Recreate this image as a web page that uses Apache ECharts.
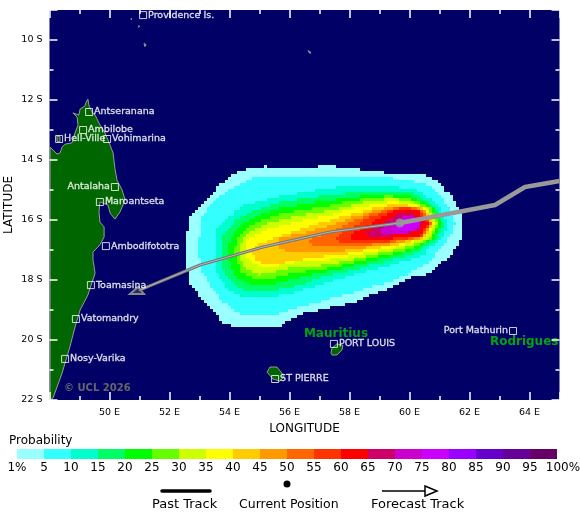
<!DOCTYPE html>
<html>
<head>
<meta charset="utf-8">
<script src="https://cdn.jsdelivr.net/npm/echarts@6/dist/echarts.min.js"></script>
<style>
html, body {margin: 0; padding: 0; background: #fff;}
#chart {width: 580px; height: 519px;}
</style>
</head>
<body>
<div id="chart"></div>
<script>
/* city names and positions, lon / lat */
var cityNames = ['Providence Is.', 'Antseranana', 'Ambilobe', 'Hell-Ville', 'Vohimarina', 'Antalaha', 'Maroantseta', 'Ambodifototra', 'Toamasina', 'Vatomandry', 'Nosy-Varika', 'PORT LOUIS', 'ST PIERRE', 'Port Mathurin'];
var cityLon = [51.12, 49.32, 49.12, 48.32, 49.92, 50.18, 49.68, 49.88, 49.38, 48.88, 48.52, 57.48, 55.52, 63.45];
var cityLat = [-9.17, -12.40, -13.00, -13.30, -13.30, -14.90, -15.40, -16.87, -18.17, -19.30, -20.63, -20.13, -21.30, -19.70];

var regionNames = ['Mauritius', 'Rodrigues'];
var regionLon = [56.48, 62.68];
var regionLat = [-19.80, -20.06];

/* track of the cyclone */
var pastTrack = [[65.0, -14.70], [63.85, -14.90], [62.85, -15.50], [59.68, -16.10]];
var forecastTrack = [[59.68, -16.10], [57.35, -16.40], [55.12, -16.90], [53.02, -17.50], [51.02, -18.33]];
var currentPosition = [59.68, -16.10];
var arrowHead = [[50.95, -18.23], [50.68, -18.47], [51.15, -18.47]];

/* coastlines */
var madagascar = [[48.02, -13.57], [48.12, -13.67], [48.25, -13.80], [48.35, -13.77], [48.42, -13.57], [48.52, -13.47], [48.75, -13.43], [48.85, -13.10], [48.95, -12.83], [48.92, -12.57], [48.78, -12.43], [48.98, -12.50], [49.02, -12.30], [49.18, -12.20], [49.22, -12.07], [49.28, -11.97], [49.32, -12.20], [49.42, -12.40], [49.52, -12.50], [49.68, -12.83], [49.85, -13.10], [49.95, -13.33], [50.12, -13.77], [50.18, -14.27], [50.25, -14.67], [50.42, -15.00], [50.52, -15.33], [50.35, -15.73], [50.18, -15.97], [50.02, -15.77], [49.95, -15.50], [49.68, -15.40], [49.65, -15.73], [49.68, -16.07], [49.82, -16.23], [49.82, -16.57], [49.68, -16.83], [49.45, -17.07], [49.45, -17.33], [49.52, -17.77], [49.28, -18.50], [49.02, -19.00], [48.85, -19.57], [48.68, -20.23], [48.42, -21.10], [48.12, -21.93], [48.02, -22.0]];
var mauritius = [[57.38, -20.43], [57.42, -20.27], [57.58, -20.13], [57.78, -20.17], [57.75, -20.33], [57.58, -20.50], [57.42, -20.50]];
var reunion = [[55.25, -21.07], [55.35, -20.90], [55.58, -20.90], [55.72, -21.07], [55.82, -21.23], [55.68, -21.37], [55.45, -21.30]];
var nosyBe = [[48.25, -13.20], [48.35, -13.22], [48.35, -13.40], [48.25, -13.38]];
var specks = [[[51.15, -10.12], [51.22, -10.15], [51.18, -10.22]], [[56.62, -10.35], [56.68, -10.45], [56.72, -10.42]], [[50.72, -9.28], [50.75, -9.30], [50.72, -9.32]], [[50.98, -9.52], [51.0, -9.55], [50.97, -9.58]]];

/* probability contours, lon / lat of the outer edge of each band */
var contour1 = [[52.52, -16.67], [52.68, -15.90], [53.02, -15.43], [53.42, -15.07], [53.75, -14.73], [54.18, -14.43], [54.52, -14.30], [55.12, -14.20], [55.92, -14.30], [56.58, -14.23], [57.35, -14.20], [57.92, -14.27], [59.25, -14.43], [60.45, -14.50], [60.95, -14.77], [61.28, -15.10], [61.52, -15.43], [61.75, -15.83], [61.75, -16.57], [61.52, -17.00], [61.28, -17.33], [60.68, -17.80], [60.12, -17.90], [59.62, -18.17], [58.95, -18.43], [58.12, -18.77], [57.02, -19.00], [56.45, -19.13], [55.62, -19.57], [54.35, -19.60], [53.78, -19.40], [53.45, -19.00], [53.08, -18.57], [52.68, -18.10], [52.52, -17.33]];
var contour5 = [[52.95, -16.99], [53.08, -15.90], [53.45, -15.33], [54.02, -14.93], [54.78, -14.60], [56.02, -14.60], [57.35, -14.57], [58.12, -14.53], [59.25, -14.60], [60.25, -14.73], [60.78, -14.93], [61.15, -15.33], [61.35, -15.77], [61.52, -16.17], [61.35, -16.60], [61.08, -16.98], [60.62, -17.43], [59.92, -17.83], [59.52, -18.00], [58.68, -18.27], [57.68, -18.57], [57.02, -18.73], [56.45, -18.87], [55.58, -19.17], [54.45, -19.17], [53.78, -18.67], [53.45, -18.27], [53.08, -17.67]];
var contour10 = [[53.52, -16.77], [53.58, -16.23], [54.02, -15.83], [54.45, -15.50], [55.35, -15.27], [56.25, -15.10], [57.35, -14.93], [58.12, -14.87], [59.25, -14.87], [60.12, -15.00], [60.68, -15.27], [61.05, -15.67], [61.28, -16.17], [61.08, -16.67], [60.58, -17.07], [60.35, -17.23], [59.25, -17.57], [58.12, -17.83], [57.02, -18.17], [56.25, -18.40], [55.35, -18.60], [54.52, -18.60], [54.02, -18.33], [53.62, -17.73], [53.52, -17.23]];
var contour15 = [[53.75, -16.90], [53.78, -16.43], [54.18, -16.00], [54.75, -15.67], [55.58, -15.43], [56.45, -15.27], [57.35, -15.17], [58.12, -15.07], [59.25, -15.03], [60.02, -15.10], [60.58, -15.40], [60.88, -15.67], [61.15, -16.17], [60.95, -16.67], [60.25, -17.10], [59.25, -17.40], [58.12, -17.67], [57.02, -17.93], [56.45, -18.17], [55.35, -18.40], [54.62, -18.40], [54.12, -18.10], [53.78, -17.57]];
var contour20 = [[53.95, -16.90], [54.02, -16.57], [54.35, -16.17], [54.92, -15.83], [55.68, -15.60], [57.35, -15.33], [58.12, -15.23], [59.25, -15.13], [59.95, -15.20], [60.45, -15.40], [60.75, -15.60], [61.05, -16.17], [60.85, -16.67], [60.12, -17.00], [59.25, -17.27], [58.12, -17.53], [57.02, -17.77], [56.35, -17.93], [55.35, -18.17], [54.85, -18.17], [54.28, -17.93], [54.02, -17.43]];
var contour25 = [[54.18, -16.93], [54.25, -16.60], [54.52, -16.27], [55.02, -16.00], [55.78, -15.77], [57.35, -15.50], [58.12, -15.33], [59.25, -15.20], [59.92, -15.27], [60.35, -15.45], [60.65, -15.60], [60.98, -16.17], [60.75, -16.67], [60.02, -16.97], [59.25, -17.17], [58.12, -17.43], [57.02, -17.67], [56.12, -17.77], [55.25, -18.00], [54.92, -18.00], [54.42, -17.77], [54.25, -17.33]];
var contour30 = [[54.35, -16.93], [54.42, -16.67], [54.62, -16.40], [55.12, -16.17], [56.02, -15.90], [57.35, -15.67], [58.12, -15.47], [59.25, -15.30], [59.85, -15.33], [60.28, -15.48], [60.55, -15.60], [60.92, -16.17], [60.65, -16.67], [59.92, -16.90], [59.25, -17.07], [58.12, -17.33], [57.02, -17.53], [56.12, -17.57], [55.35, -17.77], [55.02, -17.83], [54.58, -17.60], [54.35, -17.27]];
var contour35 = [[54.52, -16.93], [54.62, -16.60], [55.12, -16.33], [56.12, -16.07], [57.35, -15.83], [58.12, -15.60], [59.25, -15.40], [59.78, -15.43], [60.25, -15.52], [60.48, -15.60], [60.85, -16.17], [60.58, -16.60], [59.78, -16.87], [59.25, -16.97], [58.12, -17.20], [57.02, -17.37], [56.25, -17.40], [55.35, -17.60], [55.08, -17.60], [54.75, -17.40], [54.58, -17.17]];
var contour40 = [[54.75, -17.00], [54.85, -16.83], [55.58, -16.57], [56.58, -16.23], [57.35, -16.00], [58.12, -15.77], [59.25, -15.50], [59.75, -15.50], [60.18, -15.55], [60.42, -15.60], [60.78, -16.17], [60.52, -16.60], [59.68, -16.83], [59.25, -16.90], [58.12, -17.10], [57.02, -17.23], [56.78, -17.27], [55.68, -17.47], [55.18, -17.50], [54.85, -17.27]];
var contour45 = [[55.58, -16.77], [55.68, -16.60], [56.58, -16.40], [57.35, -16.17], [58.12, -15.87], [59.25, -15.57], [59.68, -15.53], [60.12, -15.57], [60.38, -15.62], [60.75, -16.17], [60.48, -16.60], [59.68, -16.77], [59.25, -16.83], [58.12, -17.00], [57.02, -17.07], [56.25, -17.07], [55.78, -17.00]];
var contour50 = [[56.62, -16.67], [56.92, -16.53], [57.35, -16.37], [58.12, -16.00], [59.25, -15.63], [59.68, -15.57], [60.08, -15.60], [60.35, -15.63], [60.72, -16.17], [60.45, -16.57], [59.68, -16.70], [59.25, -16.77], [58.12, -16.90], [57.35, -16.90], [56.85, -16.83]];
var contour55 = [[57.58, -16.53], [58.12, -16.17], [58.68, -15.90], [59.25, -15.70], [59.68, -15.60], [60.05, -15.62], [60.32, -15.66], [60.68, -16.17], [60.42, -16.53], [59.68, -16.67], [59.25, -16.73], [58.52, -16.80], [57.85, -16.80], [57.58, -16.67]];
var contour60 = [[58.02, -16.43], [58.52, -16.17], [59.18, -15.83], [59.68, -15.63], [60.02, -15.65], [60.25, -15.70], [60.62, -16.17], [60.35, -16.53], [59.68, -16.60], [59.18, -16.67], [58.52, -16.70], [58.12, -16.63]];
var contour65 = [[58.52, -16.40], [59.12, -16.07], [59.68, -15.73], [60.02, -15.73], [60.12, -15.77], [60.45, -16.17], [60.25, -16.40], [59.68, -16.50], [59.18, -16.57], [58.75, -16.53]];
var contour70 = [[58.92, -16.37], [59.35, -16.07], [59.75, -15.87], [60.08, -15.87], [60.38, -16.17], [60.18, -16.40], [59.68, -16.47], [59.25, -16.47]];
var contour75 = [[59.42, -16.23], [59.75, -15.97], [60.08, -15.97], [60.35, -16.17], [60.15, -16.37], [59.68, -16.40]];
var contours = [contour1, contour5, contour10, contour15, contour20, contour25, contour30, contour35, contour40, contour45, contour50, contour55, contour60, contour65, contour70, contour75];

/* colour scale */
var bandColors = ['#99FFFF', '#33FFFF', '#00FFCC', '#00FF66', '#00FF00', '#66FF00', '#CCFF00', '#FFFF00', '#FFCC00', '#FF9900', '#FF6600', '#FF3300', '#FF0000', '#CC0066', '#CC00CC', '#CC00FF', '#9900FF', '#6600CC', '#660099', '#660066'];
var scaleLabels = ['1%', '5', '10', '15', '20', '25', '30', '35', '40', '45', '50', '55', '60', '65', '70', '75', '80', '85', '90', '95', '100%'];

var font = 'DejaVu Sans';
var leftLabelCities = ['Antalaha', 'Port Mathurin'];

/* the original field is a 3 px raster, so walk each edge on that grid */
function stepped(points) {
    var out = [];
    for (var i = 0; i < points.length; i++) {
        var a = points[i], b = points[(i + 1) % points.length];
        var n = Math.ceil(Math.max(Math.abs(b[0] - a[0]), Math.abs(b[1] - a[1])) / 3) || 1;
        for (var k = 0; k < n; k++) {
            var x = Math.round((a[0] + (b[0] - a[0]) * k / n) / 3) * 3;
            var y = Math.round((a[1] + (b[1] - a[1]) * k / n) / 3) * 3;
            var last = out[out.length - 1];
            if (last && last[0] != x && last[1] != y) {
                out.push([x, last[1]]);
            }
            out.push([x, y]);
        }
    }
    return out;
}

function polygonSeries(polys, style, pixelated) {
    return {
        type: 'custom',
        coordinateSystem: 'cartesian2d',
        xAxisIndex: 0,
        yAxisIndex: 0,
        silent: true,
        clip: true,
        data: polys.map(function (p, i) { return [i]; }),
        renderItem: function (params, api) {
            var i = api.value(0);
            var pts = polys[i].map(function (p) { return api.coord(p); });
            return {
                type: 'polygon',
                shape: {points: pixelated ? stepped(pts) : pts},
                style: style(i)
            };
        }
    };
}

var landStyle = function () { return {fill: '#006600', stroke: '#999999', lineWidth: 1}; };

var chart = echarts.init(document.getElementById('chart'), null, {renderer: 'canvas'});

var tickStyle = {color: '#fff', width: 1.5};
var option = {
    animation: false,
    textStyle: {fontFamily: font},
    grid: [
        {left: 49.5, top: 10, width: 510, height: 390, show: true, backgroundColor: '#000066', borderWidth: 0, outerBoundsMode: 'none'},
        {left: 17, top: 449, width: 540, height: 10, show: false, outerBoundsMode: 'none'}
    ],
    xAxis: [
        {
            type: 'value', gridIndex: 0, min: 48, max: 65, interval: 2, z: 10,
            name: 'LONGITUDE', nameLocation: 'middle', nameGap: 19,
            nameTextStyle: {fontSize: 12, color: '#000', fontFamily: font},
            axisLine: {show: false}, splitLine: {show: false},
            axisTick: {show: true, inside: true, length: 8, lineStyle: tickStyle},
            minorTick: {show: true, splitNumber: 2, length: 4, lineStyle: tickStyle},
            axisLabel: {
                fontSize: 9.5, color: '#000', margin: 8, fontFamily: font,
                showMinLabel: false, showMaxLabel: false,
                formatter: function (v) { return v % 2 == 0 ? v + ' E' : ''; }
            }
        },
        {
            type: 'value', gridIndex: 0, position: 'top', min: 48, max: 65, interval: 2, z: 10,
            axisLine: {show: false}, splitLine: {show: false}, axisLabel: {show: false},
            axisTick: {show: true, inside: true, length: 8, lineStyle: tickStyle},
            minorTick: {show: true, splitNumber: 2, length: 4, lineStyle: tickStyle}
        },
        {
            type: 'value', gridIndex: 1, min: 0, max: 100, interval: 5,
            axisLine: {show: false}, axisTick: {show: false}, splitLine: {show: false},
            axisLabel: {
                fontSize: 12, color: '#000', margin: 3, fontFamily: font,
                formatter: function (v) {
                    var s = scaleLabels[v / 5];
                    return v == 100 ? '{shift|' + s + '}' : s;
                },
                rich: {shift: {fontSize: 12, color: '#000', fontFamily: font, padding: [0, 0, 0, 12]}}
            }
        }
    ],
    yAxis: [
        {
            type: 'value', gridIndex: 0, min: -22, max: -9, interval: 2, z: 10,
            name: 'LATITUDE', nameLocation: 'middle', nameGap: 35, nameMoveOverlap: false,
            nameTextStyle: {fontSize: 12, color: '#000', fontFamily: font},
            axisLine: {show: false}, splitLine: {show: false},
            axisTick: {show: true, inside: true, length: 8, lineStyle: tickStyle},
            minorTick: {show: true, splitNumber: 2, length: 4, lineStyle: tickStyle},
            axisLabel: {
                fontSize: 9.5, color: '#000', margin: 7, fontFamily: font, showMaxLabel: false,
                formatter: function (v) { return Math.abs(v) + ' S'; }
            }
        },
        {
            type: 'value', gridIndex: 0, position: 'right', min: -22, max: -9, interval: 2, z: 10,
            axisLine: {show: false}, splitLine: {show: false}, axisLabel: {show: false},
            axisTick: {show: true, inside: true, length: 8, lineStyle: tickStyle},
            minorTick: {show: true, splitNumber: 2, length: 4, lineStyle: tickStyle}
        },
        {
            type: 'value', gridIndex: 1, min: 0, max: 1, show: false
        }
    ],
    series: [
        polygonSeries([madagascar, mauritius, reunion, nosyBe].concat(specks), landStyle, false),
        polygonSeries(contours, function (i) { return {fill: bandColors[i]}; }, true),
        /* track */
        {
            type: 'line', xAxisIndex: 0, yAxisIndex: 0, data: forecastTrack, showSymbol: false, silent: true, z: 4,
            lineStyle: {color: '#777777', width: 3, cap: 'round', join: 'round'}
        },
        {
            type: 'line', xAxisIndex: 0, yAxisIndex: 0, data: forecastTrack, showSymbol: false, silent: true, z: 4,
            lineStyle: {color: '#b4b4b4', width: 1}
        },
        {
            type: 'line', xAxisIndex: 0, yAxisIndex: 0, data: pastTrack, showSymbol: false, silent: true, z: 4,
            lineStyle: {color: '#999999', width: 4.5, join: 'round'}
        },
        {
            type: 'scatter', xAxisIndex: 0, yAxisIndex: 0, data: [currentPosition], symbol: 'circle', symbolSize: 9, silent: true, z: 5,
            itemStyle: {color: '#999999'}
        },
        Object.assign(polygonSeries([arrowHead], function () { return {fill: 'rgba(120,120,120,0.35)', stroke: '#888888', lineWidth: 2}; }, false), {z: 4}),
        /* cities */
        {
            type: 'scatter', xAxisIndex: 0, yAxisIndex: 0, symbol: 'rect', symbolSize: 7, silent: true, z: 6,
            itemStyle: {color: 'rgba(0,0,0,0)', borderColor: '#fff', borderWidth: 1},
            data: cityNames.map(function (n, i) {
                return {
                    name: n,
                    value: [cityLon[i], cityLat[i]],
                    label: {position: leftLabelCities.indexOf(n) >= 0 ? 'left' : 'right'}
                };
            }),
            label: {show: true, formatter: '{b}', color: '#fff', fontSize: 9.5, distance: 1, fontFamily: font, textBorderColor: '#fff', textBorderWidth: 0.3}
        },
        {
            type: 'scatter', xAxisIndex: 0, yAxisIndex: 0, symbolSize: 0, silent: true, z: 6,
            data: regionNames.map(function (n, i) { return {name: n, value: [regionLon[i], regionLat[i]]}; }),
            label: {show: true, position: 'right', distance: 0, formatter: '{b}', color: '#00CC00', fontSize: 12, fontWeight: 'bold', fontFamily: font}
        },
        /* colour scale */
        {
            type: 'custom', coordinateSystem: 'cartesian2d', xAxisIndex: 2, yAxisIndex: 2, silent: true,
            data: bandColors.map(function (c, i) { return [i]; }),
            renderItem: function (params, api) {
                var i = api.value(0);
                var a = api.coord([i * 5, 1]);
                var b = api.coord([i * 5 + 5, 0]);
                return {
                    type: 'rect',
                    shape: {x: a[0], y: a[1], width: b[0] - a[0], height: b[1] - a[1]},
                    style: {fill: bandColors[i]}
                };
            }
        }
    ],
    graphic: [
        {type: 'text', left: 64, top: 383, z: 100, style: {text: '\u00A9 UCL 2026', fill: '#666666', font: 'bold 10px "DejaVu Sans"'}},
        {type: 'text', left: 9, top: 435, style: {text: 'Probability', fill: '#000', font: '12px "DejaVu Sans"'}},
        {type: 'line', shape: {x1: 162, y1: 491, x2: 210, y2: 491}, style: {stroke: '#000', lineWidth: 3.5, lineCap: 'round'}},
        {type: 'text', left: 152, top: 498, style: {text: 'Past Track', fill: '#000', font: '13px "DejaVu Sans"'}},
        {type: 'circle', shape: {cx: 287, cy: 484, r: 3.5}, style: {fill: '#000'}},
        {type: 'text', left: 239, top: 498, style: {text: 'Current Position', fill: '#000', font: '12.5px "DejaVu Sans"'}},
        {type: 'line', shape: {x1: 382, y1: 491, x2: 425, y2: 491}, style: {stroke: '#000', lineWidth: 1.5}},
        {type: 'polygon', shape: {points: [[425, 486], [437, 491], [425, 496]]}, style: {fill: '#fff', stroke: '#000', lineWidth: 1.5}},
        {type: 'text', left: 371, top: 498, style: {text: 'Forecast Track', fill: '#000', font: '13px "DejaVu Sans"'}}
    ]
};
chart.setOption(option);
</script>
</body>
</html>
